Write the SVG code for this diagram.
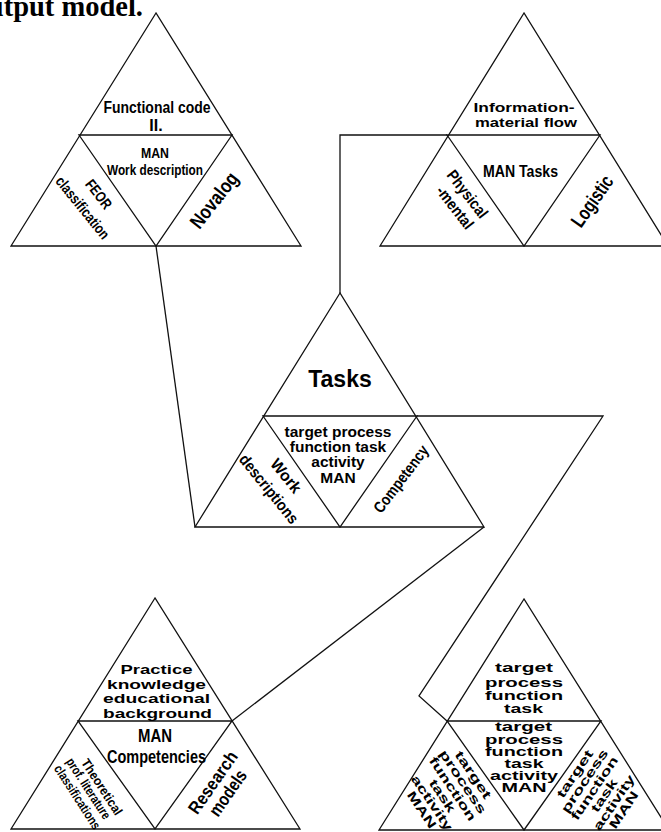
<svg xmlns="http://www.w3.org/2000/svg" width="661" height="832" viewBox="0 0 661 832">
<style>
.ln{stroke:#111;stroke-width:1.3;fill:none;stroke-linejoin:miter}
.t{font-family:"Liberation Sans",Arial,sans-serif;font-weight:bold;fill:#000;text-anchor:middle}
.r{dominant-baseline:central}
.title{font-family:"Liberation Serif","Times New Roman",serif;font-weight:bold;fill:#000}
</style>
<rect width="661" height="832" fill="#fff"/>
<text class="title" x="143" y="16" font-size="28.5" text-anchor="end">Output model.</text>

<g id="connectors" class="ln">
<polyline points="156,246 195,527"/>
<polyline points="447,135 340,135 340,293"/>
<polyline points="417,416 603,416 419,696 447,721"/>
<polyline points="484,527 232,721"/>
</g>

<g id="node-functional">
<polygon class="ln" points="156,13 11,246 301,246"/>
<polygon class="ln" points="79,135 232,135 156,246"/>
<text class="t" x="157" y="113" font-size="16" textLength="107" lengthAdjust="spacingAndGlyphs">Functional code</text>
<text class="t" x="156" y="131" font-size="16">II.</text>
<text class="t" x="155" y="158" font-size="15.5" textLength="28" lengthAdjust="spacingAndGlyphs">MAN</text>
<text class="t" x="155" y="175" font-size="15.5" textLength="96" lengthAdjust="spacingAndGlyphs">Work description</text>
<text class="t r" transform="translate(99,194) rotate(52)" font-size="15" textLength="33" lengthAdjust="spacingAndGlyphs">FEOR</text>
<text class="t r" transform="translate(83,207.5) rotate(51)" font-size="15" textLength="76" lengthAdjust="spacingAndGlyphs">classification</text>
<text class="t r" transform="translate(214,200) rotate(-52)" font-size="20" textLength="65" lengthAdjust="spacingAndGlyphs">Novalog</text>
</g>

<g id="node-man-tasks">
<polygon class="ln" points="524,13 380,246 668,246"/>
<polygon class="ln" points="447,135 600,135 524,246"/>
<text class="t" x="524" y="112" font-size="13" textLength="101" lengthAdjust="spacingAndGlyphs">Information-</text>
<text class="t" x="526" y="127" font-size="13" textLength="102" lengthAdjust="spacingAndGlyphs">material flow</text>
<text class="t" x="520.5" y="177" font-size="17" textLength="75" lengthAdjust="spacingAndGlyphs">MAN Tasks</text>
<text class="t r" transform="translate(467.5,194) rotate(52)" font-size="16" textLength="56" lengthAdjust="spacingAndGlyphs">Physical</text>
<text class="t r" transform="translate(455,207.5) rotate(52)" font-size="16" textLength="50" lengthAdjust="spacingAndGlyphs">-mental</text>
<text class="t r" transform="translate(592,201) rotate(-55)" font-size="20" textLength="58" lengthAdjust="spacingAndGlyphs">Logistic</text>
</g>

<g id="node-tasks">
<polygon class="ln" points="340,293 195,527 484,527"/>
<polygon class="ln" points="263,416 417,416 340,527"/>
<text class="t" x="340" y="387" font-size="23">Tasks</text>
<text class="t" x="338" y="437" font-size="15.5">target process</text>
<text class="t" x="338" y="452" font-size="15.5">function task</text>
<text class="t" x="338" y="467" font-size="15.5">activity</text>
<text class="t" x="338" y="483" font-size="15.5">MAN</text>
<text class="t r" transform="translate(286,476) rotate(51)" font-size="16" textLength="39" lengthAdjust="spacingAndGlyphs">Work</text>
<text class="t r" transform="translate(269,489) rotate(51)" font-size="16" textLength="84" lengthAdjust="spacingAndGlyphs">descriptions</text>
<text class="t r" transform="translate(401,479) rotate(-53)" font-size="16" textLength="80" lengthAdjust="spacingAndGlyphs">Competency</text>
</g>

<g id="node-competencies">
<polygon class="ln" points="155,598 11,829 300,829"/>
<polygon class="ln" points="78,721 232,721 155,829"/>
<text class="t" x="156.5" y="674" font-size="13.5" textLength="72" lengthAdjust="spacingAndGlyphs">Practice</text>
<text class="t" x="156.5" y="689" font-size="13.5" textLength="99" lengthAdjust="spacingAndGlyphs">knowledge</text>
<text class="t" x="156.5" y="703" font-size="13.5" textLength="107" lengthAdjust="spacingAndGlyphs">educational</text>
<text class="t" x="157.5" y="718" font-size="13.5" textLength="109" lengthAdjust="spacingAndGlyphs">background</text>
<text class="t" x="155" y="742" font-size="18.5" textLength="34" lengthAdjust="spacingAndGlyphs">MAN</text>
<text class="t" x="156.5" y="763" font-size="18.5" textLength="99" lengthAdjust="spacingAndGlyphs">Competencies</text>
<text class="t r" transform="translate(102,787) rotate(57)" font-size="13" textLength="64" lengthAdjust="spacingAndGlyphs">Theoretical</text>
<text class="t r" transform="translate(88.5,788.5) rotate(57)" font-size="13" textLength="70" lengthAdjust="spacingAndGlyphs">prof. literature</text>
<text class="t r" transform="translate(77.5,797) rotate(57)" font-size="13" textLength="74" lengthAdjust="spacingAndGlyphs">classifications</text>
<text class="t r" transform="translate(213,782.5) rotate(-55)" font-size="18" textLength="72" lengthAdjust="spacingAndGlyphs">Research</text>
<text class="t r" transform="translate(228,793) rotate(-55)" font-size="18" textLength="52" lengthAdjust="spacingAndGlyphs">models</text>
</g>

<g id="node-target">
<polygon class="ln" points="524,599 379,830 669,830"/>
<polygon class="ln" points="447,721 601,721 524,830"/>
<text class="t" x="524" y="672" font-size="13" textLength="58" lengthAdjust="spacingAndGlyphs">target</text>
<text class="t" x="524" y="686.5" font-size="13" textLength="78" lengthAdjust="spacingAndGlyphs">process</text>
<text class="t" x="524" y="700" font-size="13" textLength="78" lengthAdjust="spacingAndGlyphs">function</text>
<text class="t" x="523.5" y="713" font-size="13" textLength="39" lengthAdjust="spacingAndGlyphs">task</text>
<text class="t" x="523.5" y="731" font-size="13" textLength="57" lengthAdjust="spacingAndGlyphs">target</text>
<text class="t" x="524" y="743.5" font-size="13" textLength="78" lengthAdjust="spacingAndGlyphs">process</text>
<text class="t" x="524" y="756" font-size="13" textLength="78" lengthAdjust="spacingAndGlyphs">function</text>
<text class="t" x="524" y="768" font-size="13" textLength="39" lengthAdjust="spacingAndGlyphs">task</text>
<text class="t" x="524" y="780" font-size="13" textLength="68" lengthAdjust="spacingAndGlyphs">activity</text>
<text class="t" x="524" y="792" font-size="13" textLength="45" lengthAdjust="spacingAndGlyphs">MAN</text>
<g font-size="12.5">
<text class="t r" transform="translate(473,775) rotate(56)" textLength="55" lengthAdjust="spacingAndGlyphs">target</text>
<text class="t r" transform="translate(462.7,782) rotate(56)" textLength="74" lengthAdjust="spacingAndGlyphs">process</text>
<text class="t r" transform="translate(452.4,789) rotate(56)" textLength="74" lengthAdjust="spacingAndGlyphs">function</text>
<text class="t r" transform="translate(442.1,796) rotate(56)" textLength="37" lengthAdjust="spacingAndGlyphs">task</text>
<text class="t r" transform="translate(431.8,803) rotate(56)" textLength="64" lengthAdjust="spacingAndGlyphs">activity</text>
<text class="t r" transform="translate(421.5,810) rotate(56)" textLength="42" lengthAdjust="spacingAndGlyphs">MAN</text>
<text class="t r" transform="translate(575,774) rotate(-56)" textLength="55" lengthAdjust="spacingAndGlyphs">target</text>
<text class="t r" transform="translate(584.8,781.2) rotate(-56)" textLength="74" lengthAdjust="spacingAndGlyphs">process</text>
<text class="t r" transform="translate(594.6,788.4) rotate(-56)" textLength="74" lengthAdjust="spacingAndGlyphs">function</text>
<text class="t r" transform="translate(604.4,795.6) rotate(-56)" textLength="37" lengthAdjust="spacingAndGlyphs">task</text>
<text class="t r" transform="translate(614.2,802.8) rotate(-56)" textLength="64" lengthAdjust="spacingAndGlyphs">activity</text>
<text class="t r" transform="translate(624,810) rotate(-56)" textLength="42" lengthAdjust="spacingAndGlyphs">MAN</text>
</g>
</g>
</svg>
